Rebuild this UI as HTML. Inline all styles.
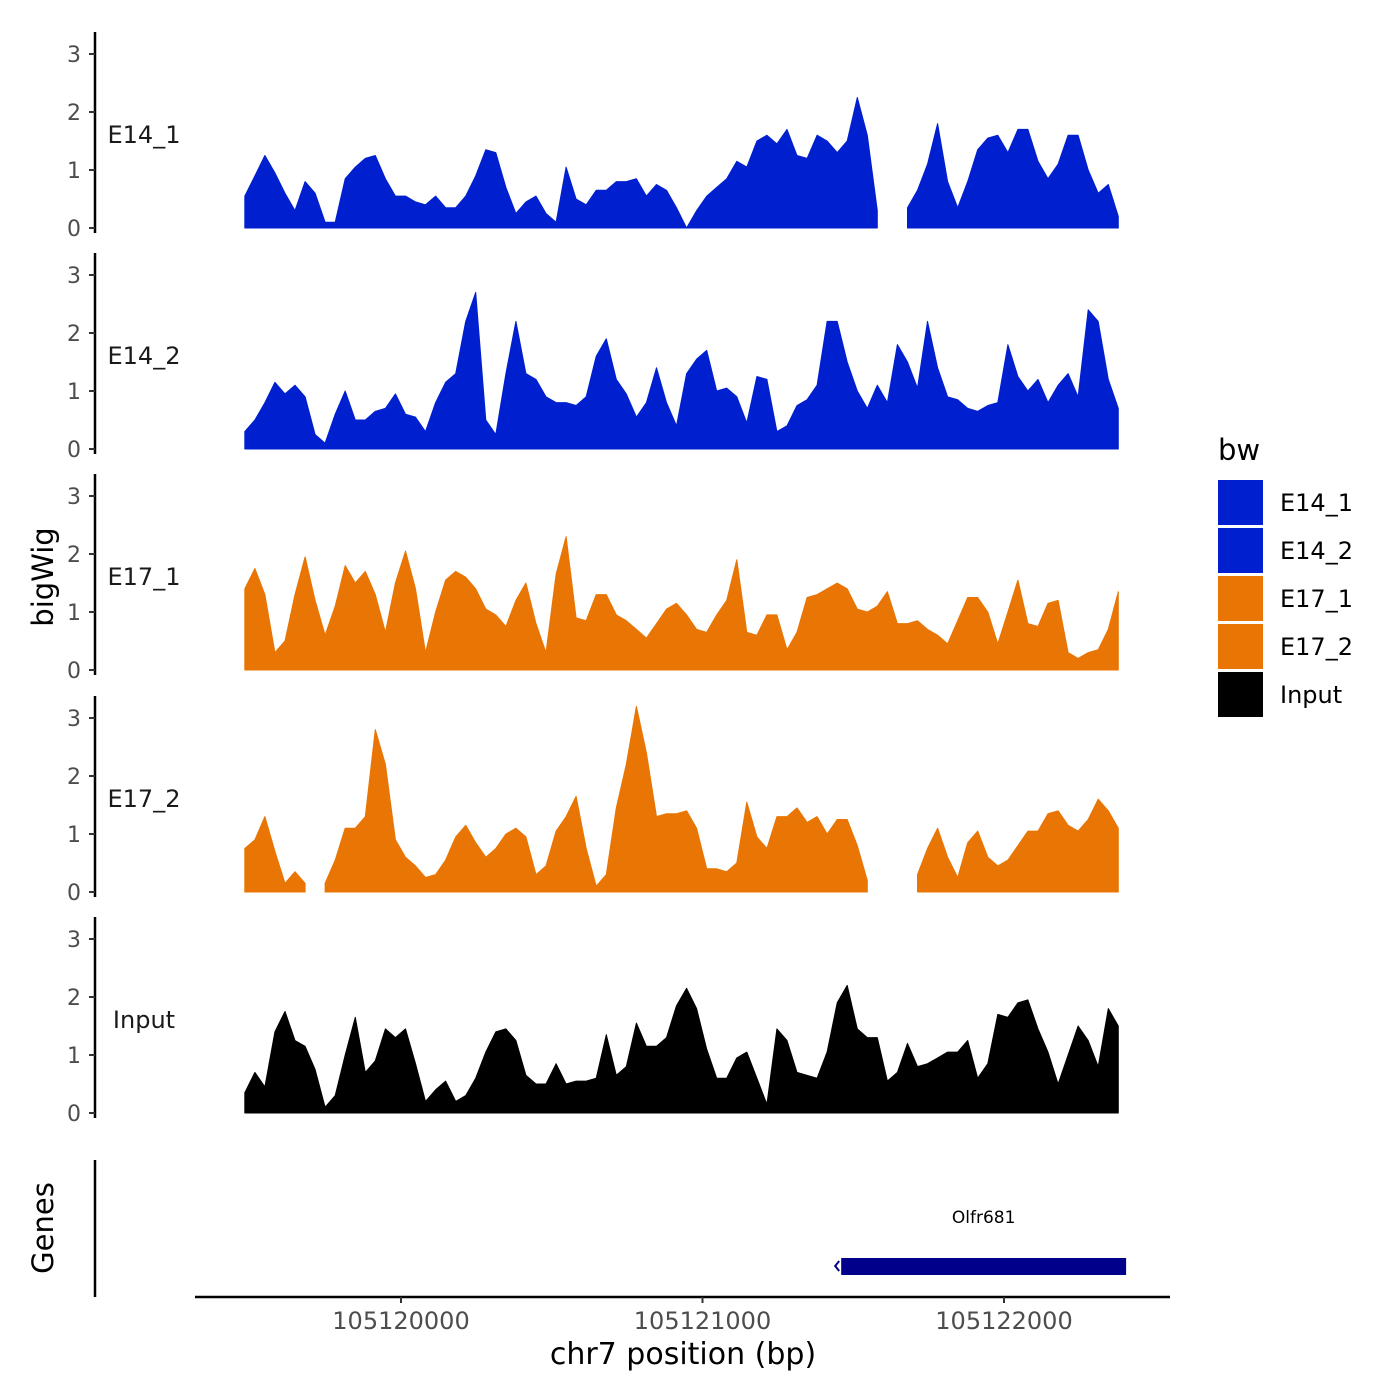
<!DOCTYPE html>
<html><head><meta charset="utf-8">
<style>
html,body{margin:0;padding:0;background:#fff;}
svg{display:block;font-family:"DejaVu Sans","Liberation Sans",sans-serif;}
</style></head>
<body>
<svg id="chart" width="1400" height="1400" viewBox="0 0 1400 1400"></svg>
<script>
const trackNames = ["E14_1","E14_2","E17_1","E17_2","Input"];
const trackColors = ["#0020D0","#0020D0","#E87504","#E87504","#000000"];
const yTicks = [0,1,2,3];
const xTicks = [105120000,105121000,105122000];
const xTickLabels = ["105120000","105121000","105122000"];
const startBp = 105119482;
const stepBp = 33.3;
const N = null;
const e14_1 = [.55,.9,1.25,.95,.6,.3,.8,.6,.1,.1,.85,1.05,1.2,1.25,.85,.55,.55,.45,.4,.55,.35,.35,.55,.9,1.35,1.3,.7,.25,.45,.55,.25,.1,1.05,.5,.4,.65,.65,.8,.8,.85,.55,.75,.65,.35,0,.3,.55,.7,.85,1.15,1.05,1.5,1.6,1.45,1.7,1.25,1.2,1.6,1.5,1.3,1.5,2.25,1.6,.3,N,N,.35,.65,1.1,1.8,.8,.35,.8,1.35,1.55,1.6,1.3,1.7,1.7,1.15,.85,1.1,1.6,1.6,1.0,.6,.75,.2];
const e14_2 = [.3,.5,.8,1.15,.95,1.1,.9,.25,.1,.6,1.0,.5,.5,.65,.7,.95,.6,.55,.3,.8,1.15,1.3,2.2,2.7,.5,.25,1.3,2.2,1.3,1.2,.9,.8,.8,.75,.9,1.6,1.9,1.2,.95,.55,.8,1.4,.8,.4,1.3,1.55,1.7,1.0,1.05,.9,.45,1.25,1.2,.3,.4,.75,.85,1.1,2.2,2.2,1.5,1.0,.7,1.1,.8,1.8,1.5,1.05,2.2,1.4,.9,.85,.7,.65,.75,.8,1.8,1.25,1.0,1.2,.8,1.1,1.3,.9,2.4,2.2,1.2,.7];
const e17_1 = [1.4,1.75,1.3,.3,.5,1.3,1.95,1.2,.6,1.1,1.8,1.5,1.7,1.3,.65,1.5,2.05,1.4,.3,1.0,1.55,1.7,1.6,1.4,1.05,.95,.75,1.2,1.5,.8,.3,1.65,2.3,.9,.85,1.3,1.3,.95,.85,.7,.55,.8,1.05,1.15,.95,.7,.65,.95,1.2,1.9,.65,.6,.95,.95,.35,.65,1.25,1.3,1.4,1.5,1.4,1.05,1.0,1.1,1.35,.8,.8,.85,.7,.6,.45,.85,1.25,1.25,1.0,.45,1.0,1.55,.8,.75,1.15,1.2,.3,.2,.3,.35,.7,1.35];
const e17_2 = [.75,.9,1.3,.7,.15,.35,.15,N,.15,.55,1.1,1.1,1.3,2.8,2.2,.9,.6,.45,.25,.3,.55,.95,1.15,.85,.6,.75,1.0,1.1,.95,.3,.45,1.05,1.3,1.65,.75,.1,.3,1.45,2.2,3.2,2.4,1.3,1.35,1.35,1.4,1.1,.4,.4,.35,.5,1.55,.95,.75,1.3,1.3,1.45,1.2,1.3,1.0,1.25,1.25,.8,.2,N,N,N,N,.3,.75,1.1,.6,.25,.85,1.05,.6,.45,.55,.8,1.05,1.05,1.35,1.4,1.15,1.05,1.25,1.6,1.4,1.1];
const input = [.35,.7,.45,1.4,1.75,1.25,1.15,.75,.1,.3,1.0,1.65,.7,.9,1.45,1.3,1.45,.85,.2,.4,.55,.2,.3,.6,1.05,1.4,1.45,1.25,.65,.5,.5,.85,.5,.55,.55,.6,1.35,.65,.8,1.55,1.15,1.15,1.3,1.85,2.15,1.8,1.1,.6,.6,.95,1.05,.6,.15,1.45,1.25,.7,.65,.6,1.05,1.9,2.2,1.45,1.3,1.3,.55,.7,1.2,.8,.85,.95,1.05,1.05,1.25,.6,.85,1.7,1.65,1.9,1.95,1.45,1.05,.5,1.0,1.5,1.25,.8,1.8,1.5];
const trackData = [e14_1,e14_2,e17_1,e17_2,input];
const geneName = "Olfr681";
const geneStart = 105121460;
const geneEnd = 105122405;

const NS="http://www.w3.org/2000/svg";
const svg=document.getElementById('chart');
function mk(tag,attrs,parent){const e=document.createElementNS(NS,tag);for(const k in attrs)e.setAttribute(k,attrs[k]);(parent||svg).appendChild(e);return e;}
const xScale = bp => 401 + (bp-105120000)*(1004-401)/2000;
const panelZero = [228,449,670,892,1113];
const yScale = (p,v) => panelZero[p] - v*58;

trackData.forEach((vals,p)=>{
  const g=mk('g',{});
  
  
  const ax=mk('line',{x1:95,x2:95,y1:panelZero[p]-196,y2:panelZero[p]+5,stroke:'#000','stroke-width':2.5},g);
  
  
  yTicks.forEach(t=>{
    const y=yScale(p,t);
    mk('line',{x1:89,x2:95,y1:y,y2:y,stroke:'#333','stroke-width':2},g);
    const tx=mk('text',{x:81,y:y+8,'text-anchor':'end','font-size':22,fill:'#4d4d4d'},g);
    tx.textContent=t;
    
    
  });
  const lab=mk('text',{x:144,y:panelZero[p]-85,'text-anchor':'middle','font-size':24,fill:'#1a1a1a'},g);
  lab.textContent=trackNames[p];
  
  
  let seg=[];
  const segs=[];
  vals.forEach((v,i)=>{ if(v===null){ if(seg.length)segs.push(seg); seg=[]; } else seg.push([startBp+i*stepBp,v]); });
  if(seg.length)segs.push(seg);
  segs.forEach(s=>{
    let d='M'+xScale(s[0][0]).toFixed(1)+','+panelZero[p];
    s.forEach(pt=>{d+=' L'+xScale(pt[0]).toFixed(1)+','+yScale(p,pt[1]).toFixed(1);});
    d+=' L'+xScale(s[s.length-1][0]).toFixed(1)+','+panelZero[p]+' Z';
    const a=mk('path',{d:d,fill:trackColors[p],stroke:trackColors[p],'stroke-width':1,'stroke-linejoin':'round'},g);
    
    
  });
});

const ga=mk('line',{x1:95,x2:95,y1:1160,y2:1297,stroke:'#000','stroke-width':2.5});


const gb=mk('rect',{x:xScale(geneStart),y:1258,width:xScale(geneEnd)-xScale(geneStart),height:17,fill:'#00008B'});


const gl=mk('text',{x:(xScale(geneStart)+xScale(geneEnd))/2,y:1223,'text-anchor':'middle','font-size':17,fill:'#000'});
gl.textContent=geneName;


mk('path',{d:`M${xScale(geneStart)-2},1261 L${xScale(geneStart)-6},1266 L${xScale(geneStart)-2},1271`,stroke:'#00008B','stroke-width':2,fill:'none'});

const xa=mk('line',{x1:195,x2:1170,y1:1297,y2:1297,stroke:'#000','stroke-width':2.5});


xTicks.forEach((t,i)=>{
  const x=xScale(t);
  mk('line',{x1:x,x2:x,y1:1297,y2:1303,stroke:'#333','stroke-width':2});
  const tx=mk('text',{x:x,y:1329,'text-anchor':'middle','font-size':24,fill:'#4d4d4d'});
  tx.textContent=xTickLabels[i];
  
  
});
const xt=mk('text',{x:683,y:1364,'text-anchor':'middle','font-size':30,fill:'#000'});
xt.textContent='chr7 position (bp)';


const yt=mk('text',{x:0,y:0,'text-anchor':'middle','font-size':29,fill:'#000',transform:'translate(53,577) rotate(-90)'});
yt.textContent='bigWig';


const gt=mk('text',{x:0,y:0,'text-anchor':'middle','font-size':29,fill:'#000',transform:'translate(53,1228) rotate(-90)'});
gt.textContent='Genes';



const lt=mk('text',{x:1218,y:460,'font-size':29,fill:'#000'});
lt.textContent='bw';


trackNames.forEach((n,i)=>{
  const y=480+i*48;
  const r=mk('rect',{x:1218,y:y,width:45,height:45,fill:trackColors[i]});
  
  
  const t=mk('text',{x:1280,y:y+31,'font-size':24,fill:'#000'});
  t.textContent=n;
  
  
});
</script>
</body></html>
